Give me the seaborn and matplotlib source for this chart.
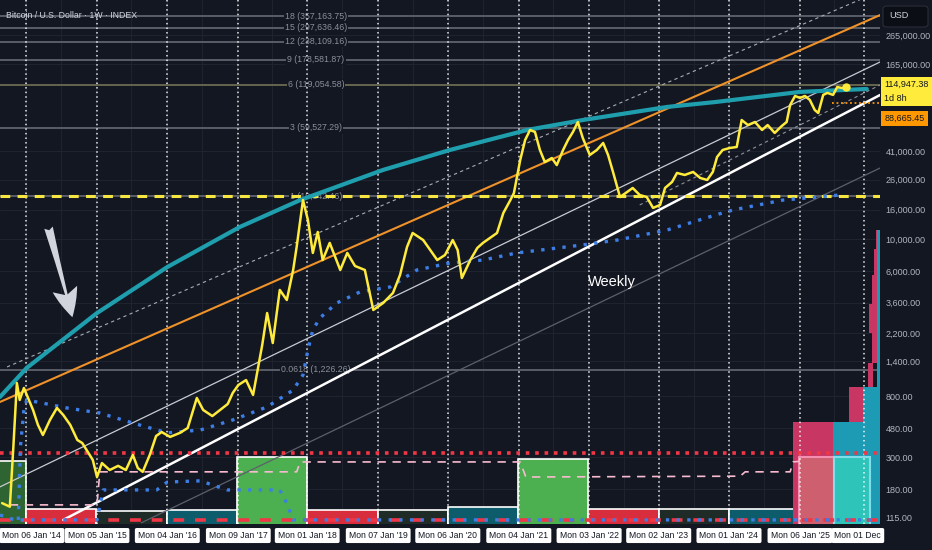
import numpy as np
import pandas as pd
import seaborn as sns
import matplotlib.pyplot as plt
import matplotlib.transforms as mtransforms
from matplotlib.patches import Rectangle, FancyBboxPatch
from matplotlib.ticker import NullLocator

# weekly BTC close (decimal year, USD)
btc_year = [2013.66, 2013.77, 2013.82, 2013.87, 2013.91, 2013.97, 2014.03, 2014.10, 2014.17, 2014.24,
            2014.34, 2014.44, 2014.53, 2014.63, 2014.73, 2014.80, 2014.88, 2014.95, 2015.01, 2015.08,
            2015.19, 2015.31, 2015.42, 2015.52, 2015.59, 2015.66, 2015.76, 2015.85, 2015.93, 2016.05,
            2016.19, 2016.30, 2016.43, 2016.52, 2016.65, 2016.76, 2016.87, 2016.94, 2017.02, 2017.13,
            2017.23, 2017.36, 2017.43, 2017.51, 2017.61, 2017.71, 2017.80, 2017.85, 2017.94, 2018.01,
            2018.08, 2018.15, 2018.22, 2018.32, 2018.47, 2018.57, 2018.68, 2018.82, 2018.94, 2019.08,
            2019.22, 2019.32, 2019.42, 2019.50, 2019.65, 2019.75, 2019.85, 2019.96, 2020.07, 2020.14,
            2020.20, 2020.32, 2020.42, 2020.50, 2020.60, 2020.70, 2020.79, 2020.89, 2020.94, 2021.03,
            2021.10, 2021.17, 2021.24, 2021.31, 2021.38, 2021.48, 2021.55, 2021.64, 2021.71, 2021.78,
            2021.85, 2021.92, 2022.02, 2022.12, 2022.21, 2022.28, 2022.35, 2022.45, 2022.55, 2022.63,
            2022.73, 2022.83, 2022.92, 2023.02, 2023.09, 2023.19, 2023.26, 2023.37, 2023.49, 2023.59,
            2023.69, 2023.77, 2023.83, 2023.91, 2024.01, 2024.11, 2024.18, 2024.27, 2024.37, 2024.47,
            2024.55, 2024.65, 2024.75, 2024.82, 2024.87, 2024.94, 2025.01, 2025.08, 2025.15, 2025.22,
            2025.27, 2025.34, 2025.40, 2025.48, 2025.54, 2025.61, 2025.66]
btc_price = [144, 136, 355, 991, 755, 915, 779, 643, 505, 430,
             547, 664, 593, 505, 397, 378, 327, 288, 219, 274,
             245, 262, 245, 312, 253, 238, 312, 423, 451, 417,
             445, 481, 779, 643, 583, 643, 708, 844, 959, 1039,
             818, 1824, 3048, 1884, 4416, 3758, 6084, 8810, 18700, 13580,
             8000, 11200, 7140, 9400, 6084, 8000, 6490, 6084, 3200, 3580,
             4208, 5610, 8810, 11020, 9840, 8390, 7140, 7740, 9840, 8390,
             5350, 7140, 8670, 9400, 10170, 11020, 15200, 18700, 20900, 35560,
             49070, 57650, 55800, 41800, 34440, 36730, 32800, 41800, 49070, 55800,
             65500, 50700, 38550, 41800, 46770, 38550, 29370, 19630, 21280, 22700,
             20280, 19630, 16480, 17290, 22700, 25000, 28900, 27990, 29370, 26670,
             25820, 29370, 37330, 41800, 43150, 43850, 67600, 62370, 65500, 57650,
             62370, 54950, 61400, 65500, 86100, 99500, 96400, 99500, 93300, 79400,
             75700, 101200, 104500, 101200, 114900, 113000, 114947.38]

# teal curve
curve_year = [2013.63, 2014.01, 2015.01, 2016.01, 2017.04, 2017.90, 2019.08, 2020.03,
              2021.13, 2021.92, 2023.12, 2023.81, 2025.01, 2025.96]
curve_price = [792, 1262, 3048, 6380, 12130, 18700, 30340, 41800,
               57650, 67600, 83400, 90300, 106200, 111300]

# blue dotted average
ma_year = [2013.89, 2013.92, 2013.97, 2014.01, 2014.58, 2015.05, 2015.52, 2016.01, 2016.48, 2016.94,
           2017.43, 2017.80, 2017.94, 2018.01, 2018.08, 2018.18, 2018.42, 2018.75, 2019.18, 2019.56,
           2020.03, 2020.50, 2020.98, 2021.92, 2022.41, 2023.12, 2023.81, 2024.06, 2024.77, 2025.25,
           2025.58]
ma_price = [110, 355, 643, 755, 664, 612, 521, 445, 466, 547,
            675, 885, 1127, 1683, 2322, 2812, 3580, 4276, 4634, 6084,
            6808, 7140, 8000, 9100, 9840, 11560, 14720, 15960, 18700, 19630,
            20280]

# lower blue dotted oscillator
osc_year = [2013.63, 2013.84, 2015.01, 2015.10, 2015.86, 2016.01, 2016.48, 2016.86, 2017.61,
            2017.71, 2017.80, 2026.15]
osc_price = [119, 110, 110, 178, 178, 202, 206, 178, 178, 144, 110, 110]

# pink stepped level
step_year = [2013.77, 2015.01, 2015.05, 2017.85, 2017.90, 2021.03, 2021.11, 2024.16, 2024.23,
             2024.87, 2024.91, 2025.01]
step_price = [140, 140, 238, 238, 279, 279, 219, 222, 238, 238, 279, 282]

# channel / trend lines (two anchors each)
trend_lines = {
    'orange': ([2013.63, 2026.15], [731, 365000]),
    'upper_dash': ([2013.73, 2026.15], [1282, 537000]),
    'upper_thin': ([2013.63, 2026.15], [187, 171800]),
    'mid_dash': ([2022.73, 2026.15], [17290, 118700]),
    'support': ([2014.53, 2026.15], [110, 101100]),
    'lower_thin': ([2015.64, 2026.15], [105, 31300]),
}

fib_ratio = ['18', '15', '12', '9', '6', '3', '1', '0.0618']
fib_price = [357163.75, 297636.46, 238109.16, 178581.87, 119054.58, 59527.29, 19842.46, 1226.26]

# yearly boxes at the bottom
box_year = [2013, 2014, 2015, 2016, 2017, 2018, 2019, 2020, 2021, 2022, 2023, 2024]
box_top = [283, 131, 127, 129, 302, 129, 129, 135, 292, 131, 131, 131]
box_kind = ['green_dark', 'red', 'dark', 'teal', 'green', 'red', 'dark', 'teal', 'green', 'red', 'dark', 'teal']

# volume profile on the right edge
vp_x0 = [2024.91, 2025.48, 2025.71, 2025.91, 2025.98, 2026.03, 2025.99, 2026.04, 2026.06, 2026.09, 2026.10]
vp_x1 = [2025.48, 2026.15, 2025.91, 2026.15, 2026.05, 2026.10, 2026.10, 2026.10, 2026.10, 2026.10, 2026.15]
vp_lo = [100, 100, 530, 530, 929, 1367, 2200, 3500, 5600, 8500, 929]
vp_hi = [530, 530, 929, 929, 1367, 2200, 3500, 5600, 8500, 11560, 11560]
vp_kind = ['pink', 'teal', 'pink', 'teal', 'pink', 'pink', 'pink', 'pink', 'pink', 'pink', 'teal']

year_ticks = [2014.00, 2015.01, 2016.01, 2017.02, 2018.00, 2019.01, 2020.00, 2021.01,
              2022.01, 2023.00, 2024.00, 2025.01, 2025.92]
year_labels = ["Mon 06 Jan '14", "Mon 05 Jan '15", "Mon 04 Jan '16", "Mon 09 Jan '17",
               "Mon 01 Jan '18", "Mon 07 Jan '19", "Mon 06 Jan '20", "Mon 04 Jan '21",
               "Mon 03 Jan '22", "Mon 02 Jan '23", "Mon 01 Jan '24", "Mon 06 Jan '25", "Mon 01 Dec"]

price_ticks = [265000, 165000, 41000, 26000, 16000, 10000, 6000, 3600, 2200, 1400,
               800, 480, 300, 180, 115]

last_price = 114947.38
prev_close = 88665.45

BG = '#131722'
sns.set_theme(style='dark')
plt.rcParams['font.family'] = ['Liberation Sans', 'DejaVu Sans']

fig = plt.figure(figsize=(9.32, 5.5), dpi=100, facecolor=BG)
ax = fig.add_axes([0, 26 / 550, 880 / 932, 524 / 550])
ax.set_facecolor(BG)
ax.set_yscale('log')
ax.set_xlim(2013.63, 2026.148)
ax.set_ylim(103.0, 464500)
for s in ax.spines.values():
    s.set_visible(False)

# faint grid
for p in price_ticks:
    ax.axhline(p, color='#1f2330', lw=0.8, zorder=0)
for y in range(2013, 2026):
    ax.axvline(y + 0.5, color='#1f2330', lw=0.8, zorder=0)
    ax.axvline(y + 0.0, color='#1f2330', lw=0.8, zorder=0)

# fib levels
for r, p in zip(fib_ratio, fib_price):
    col = '#6b6b52' if r == '6' else '#5f636e'
    ax.axhline(p, color=col, lw=1.3, zorder=1)
    ax.text(2018.125, p, f'{r} ({p:,.2f})', ha='center', va='center', fontsize=6.3,
            color='#8c8f99', zorder=1.5, bbox=dict(fc=BG, ec='none', pad=0.8))

# yearly boxes
box_fc = {'green_dark': '#2d6432', 'red': '#d72d3c', 'dark': '#1f2b27', 'teal': '#0d5c6b', 'green': '#4caf50'}
for y0, top, kind in zip(box_year, box_top, box_kind):
    ax.add_patch(Rectangle((y0, 100), 1, top - 100, fc=box_fc[kind], ec='white', lw=1.2, zorder=1.6))

# volume profile
vp_fc = {'pink': '#c83764', 'teal': '#1e9bb4'}
for x0, x1, lo, hi, kind in zip(vp_x0, vp_x1, vp_lo, vp_hi, vp_kind):
    ax.add_patch(Rectangle((x0, lo), x1 - x0, hi - lo, fc=vp_fc[kind], ec='none', zorder=1.7))

# 2025 boxes
ax.add_patch(Rectangle((2025.0, 100), 0.5, 202, fc='#cd5f6e', ec='#f48fb1', lw=1.5, zorder=1.8))
ax.add_patch(Rectangle((2025.5, 100), 0.5, 202, fc='#2ec4b9', ec='#80deea', lw=1.5, zorder=1.8))

# vertical dotted year lines
for x in year_ticks:
    ax.axvline(x, color='white', lw=1.1, ls=(0, (1, 2)), alpha=0.9, zorder=2)

# trend lines
styles = {
    'orange': dict(color='#f0922a', lw=1.5),
    'upper_dash': dict(color='#a9acb5', lw=0.8, ls=(0, (3, 3))),
    'upper_thin': dict(color='#c9cbd2', lw=0.9),
    'mid_dash': dict(color='#8f929b', lw=0.8, ls=(0, (3, 3))),
    'support': dict(color='white', lw=1.8),
    'lower_thin': dict(color='#5d606b', lw=0.9),
}
for name, (xs, ys) in trend_lines.items():
    ax.plot(xs, ys, zorder=2.5, **styles[name])

ax.axhline(fib_price[6], color='#f5e642', lw=2.2, ls=(0, (3.2, 2.4)), zorder=3)
ax.axhline(322, color='#f23645', lw=2.6, ls=(0, (1, 1.6)), zorder=3)
ax.axhline(110, color='#f23645', lw=2.6, ls=(0, (3, 3)), zorder=3)

sns.lineplot(x=step_year, y=step_price, ax=ax, color='#f8bbd0', lw=1.2, ls=(0, (5, 4)),
             estimator=None, sort=False, legend=False, zorder=3)
sns.lineplot(x=curve_year, y=curve_price, ax=ax, color='#1f9eae', lw=3, estimator=None,
             sort=False, legend=False, zorder=3.5)
sns.lineplot(x=osc_year, y=osc_price, ax=ax, color='#3d7ee6', lw=2.4, ls=(0, (1, 2.2)),
             estimator=None, sort=False, legend=False, zorder=3.6)
sns.lineplot(x=ma_year, y=ma_price, ax=ax, color='#3d7ee6', lw=2.4, ls=(0, (1, 2.2)),
             estimator=None, sort=False, legend=False, zorder=3.6)
sns.lineplot(x=btc_year, y=btc_price, ax=ax, color='#ffeb3b', lw=1.8, estimator=None,
             sort=False, legend=False, zorder=4)
ax.plot(btc_year[-1], btc_price[-1], 'o', color='#ffeb3b', ms=5, zorder=4.5)
ax.plot([2025.47, 2026.15], [prev_close, prev_close], color='#ff9800', lw=1.3, ls=(0, (1, 1.5)), zorder=4)

# annotations
ax.annotate('', xy=(2014.67, 2729), xytext=(2014.31, 12530),
            arrowprops=dict(arrowstyle='fancy,head_width=1.3,head_length=1.5,tail_width=0.45',
                            fc='#d1d4dc', ec='none', mutation_scale=14), zorder=5)
ax.text(2022.34, 5020, 'Weekly', color='white', fontsize=10.5, ha='center', va='center', zorder=5)

# axes labels
ax.set_xticks([])
ax.set_xlabel('')
ax.set_ylabel('')
ax.yaxis.tick_right()
ax.yaxis.set_minor_locator(NullLocator())
ax.set_yticks(price_ticks)
ax.set_yticklabels([f'{p:,.2f}' for p in price_ticks])
ax.tick_params(axis='y', length=0, pad=4, labelsize=6.5, labelcolor='#b2b5be')

blend = mtransforms.blended_transform_factory(ax.transData, ax.transAxes)
label_box = dict(boxstyle='round,pad=0.35,rounding_size=0.2', fc='white', ec='none')
for i, (x, lab) in enumerate(zip(year_ticks, year_labels)):
    if i == 0:
        ax.text(2013.665, -0.022, lab, transform=blend, ha='left', va='center', fontsize=6.2,
                color='#131722', clip_on=False, bbox=label_box)
    elif lab == 'Mon 01 Dec':
        ax.text(2025.50, -0.022, lab, transform=blend, ha='left', va='center', fontsize=6.2,
                color='#131722', clip_on=False, bbox=label_box)
    else:
        ax.text(x, -0.022, lab, transform=blend, ha='center', va='center',
                fontsize=6.2, color='#131722', clip_on=False, bbox=label_box)

ax.annotate(f'{last_price:,.2f}\n1d 8h', xy=(1, last_price), xycoords=('axes fraction', 'data'),
            xytext=(3, 5), textcoords='offset points', ha='left', va='top', fontsize=6.5,
            color='#131722', linespacing=1.7,
            bbox=dict(boxstyle='square,pad=0.35', fc='#ffeb3b', ec='none'), annotation_clip=False)
ax.annotate(f'{prev_close:,.2f}', xy=(1, prev_close), xycoords=('axes fraction', 'data'),
            xytext=(3, -11), textcoords='offset points', ha='left', va='center', fontsize=6.5,
            color='#131722', bbox=dict(boxstyle='square,pad=0.35', fc='#ff9800', ec='none'),
            annotation_clip=False)

fig.patches.append(FancyBboxPatch((883 / 932, 1 - 27 / 550), 45 / 932, 21 / 550,
                                  boxstyle='round,pad=0,rounding_size=0.005', transform=fig.transFigure,
                                  fc='#0c0e15', ec='#2a2e39', lw=0.8, figure=fig))
fig.text(889 / 932, 1 - 16 / 550, 'USD', fontsize=6.6, color='#d1d4dc', va='center')
fig.text(6 / 932, 1 - 15 / 550, 'Bitcoin / U.S. Dollar · 1W · INDEX', fontsize=6.3,
         color='#d1d4dc', va='center')

fig.savefig('out.png', dpi=100, facecolor=BG)
